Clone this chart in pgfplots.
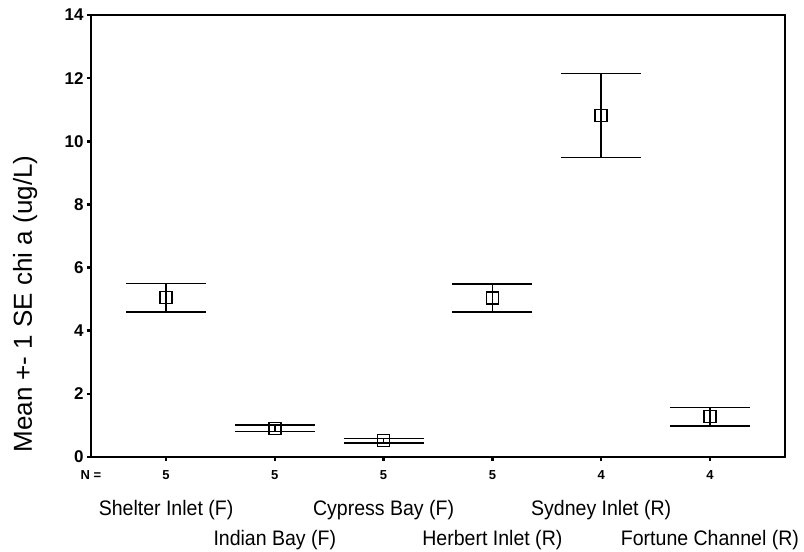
\documentclass[border=0pt]{standalone}
\usepackage{fontspec}
\setmainfont{Liberation Sans}
\newfontfamily\catfont[FakeStretch=0.93]{Liberation Sans}
\usepackage{pgfplots}
\usepackage{pgfplotstable}
\pgfplotsset{compat=1.18}
\pgfplotstableread{
x y ep em
0 5.05 0.45 0.45
1 0.91 0.10 0.10
2 0.52 0.07 0.07
3 5.04 0.45 0.45
4 10.82 1.33 1.33
5 1.28 0.29 0.29
}\chla
\begin{document}
\begin{tikzpicture}[x=1pt,y=1pt]
\useasboundingbox (-91,-95) rectangle (713,457);
\begin{axis}[
  at={(0,0)}, anchor=south west,
  scale only axis, width=694pt, height=442pt,
  xmin=-0.69, xmax=5.69, ymin=0, ymax=14,
  ytick={0,2,...,14},
  xtick={0,...,5}, xticklabels={{},{},{},{},{},{}},
  xtick pos=bottom, ytick pos=left,
  tick align=outside, major tick length=4pt,
  tick style={black, line width=2.5pt},
  axis line style={line width=1.6pt},
  y tick label style={font=\fontsize{17}{17}\selectfont\bfseries},
  /pgf/number format/assume math mode=true,
  ylabel={Mean +- 1 SE chi a (ug/L)},
  ylabel style={font=\fontsize{26}{26}\selectfont, at={(axis description cs:-0.095,0.346)}, anchor=center},
  clip=false,
]
\addplot[only marks, mark=square, mark size=6pt, black, line width=1.4pt,
  error bars/.cd, y dir=both, y explicit,
  error bar style={line width=1.6pt, black},
  error mark=|,
  error mark options={black, line width=1.7pt, mark size=40pt}]
  table[x=x, y=y, y error plus=ep, y error minus=em] {\chla};
\begin{scope}[every node/.style={anchor=base, font=\fontsize{13}{13}\selectfont\bfseries}]
\node at ([yshift=-22pt]axis cs:-0.69,0) {N =};
\node at ([yshift=-22pt]axis cs:0,0) {5};
\node at ([yshift=-22pt]axis cs:1,0) {5};
\node at ([yshift=-22pt]axis cs:2,0) {5};
\node at ([yshift=-22pt]axis cs:3,0) {5};
\node at ([yshift=-22pt]axis cs:4,0) {4};
\node at ([yshift=-22pt]axis cs:5,0) {4};
\end{scope}
\begin{scope}[every node/.style={anchor=base, font=\catfont\fontsize{21}{21}\selectfont}]
\node at ([yshift=-58pt]axis cs:0,0) {Shelter Inlet (F)};
\node at ([yshift=-88pt]axis cs:1,0) {Indian Bay (F)};
\node at ([yshift=-58pt]axis cs:2,0) {Cypress Bay (F)};
\node at ([yshift=-88pt]axis cs:3,0) {Herbert Inlet (R)};
\node at ([yshift=-58pt]axis cs:4,0) {Sydney Inlet (R)};
\node at ([yshift=-88pt]axis cs:5,0) {Fortune Channel (R)};
\end{scope}
\end{axis}
\end{tikzpicture}
\end{document}
